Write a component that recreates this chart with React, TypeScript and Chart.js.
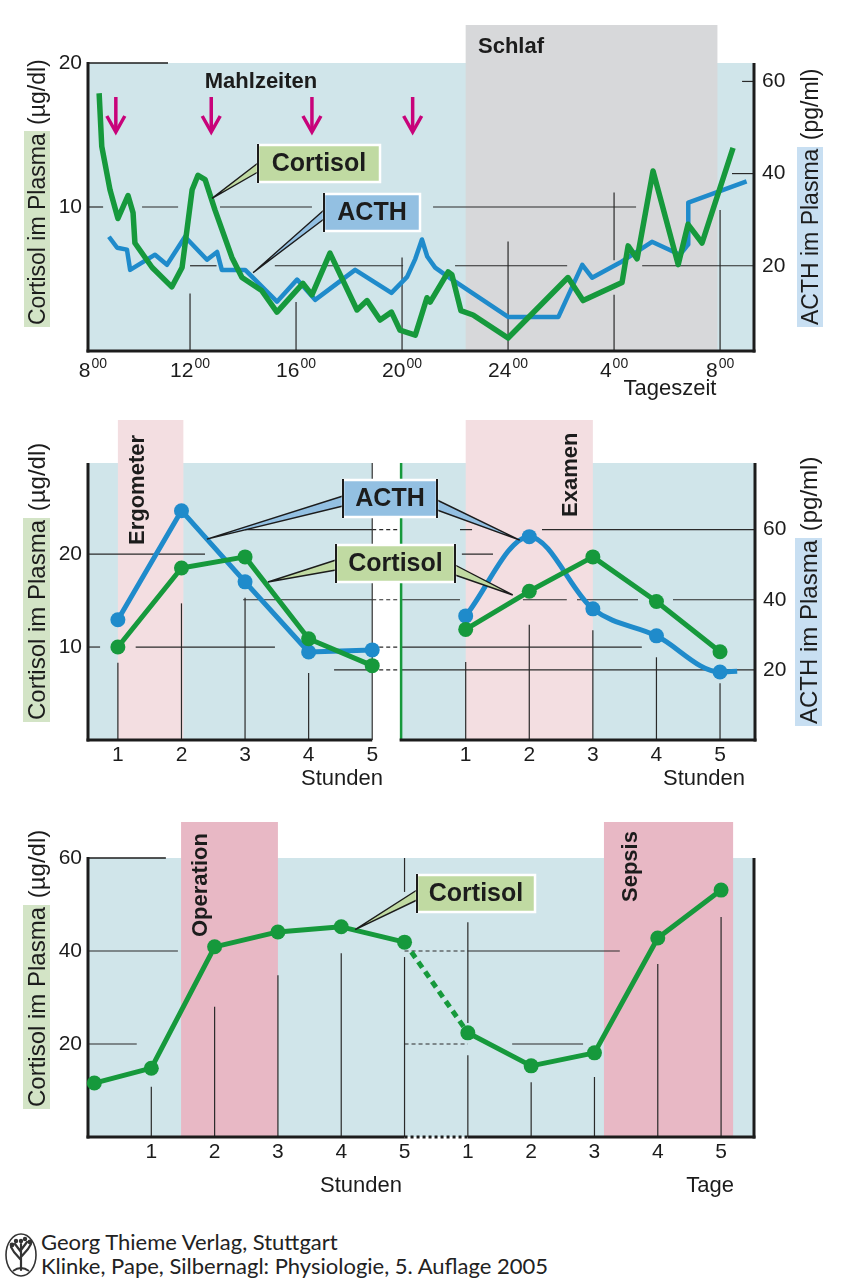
import { useEffect, useRef } from 'react';
import { Chart, registerables } from 'chart.js';

Chart.register(...registerables);

const FONT = '"Liberation Sans", Arial, Helvetica, sans-serif';
const INK = '#1c1c1c';
const BG_BLUE = '#d0e5ea';
const SLEEP_GRAY = '#d7d8da';
const PINK_LIGHT = '#f3dee1';
const PINK_DEEP = '#e8b8c5';
const GREEN = '#16993c';
const BLUE = '#1f8bcb';
const MAGENTA = '#c8037a';
const BOX_GREEN = '#c0daa2';
const BOX_BLUE = '#93c0e2';
const TITLE_GREEN = '#d3e4c6';
const TITLE_BLUE = '#c8dff2';

// ---------- Panel 1: circadian rhythm (hours of day, 24 = midnight, 32 = 8:00 next day)
const cortisolDayHours = [8.57, 8.67, 8.98, 9.28, 9.66, 9.85, 9.92, 10.57, 11.31, 11.7, 12.08, 12.3, 12.57, 12.94, 13.58, 13.96, 14.7, 15.28, 16.26, 16.6, 17.28, 18.3, 18.68, 19.17, 19.6, 19.92, 20.5, 20.94, 21.06, 21.74, 21.88, 22.22, 22.68, 24.0, 26.26, 26.83, 28.3, 28.53, 28.87, 29.47, 30.42, 30.79, 31.32, 32.49];
const cortisolDayValues = [17.9, 14.2, 11.2, 9.2, 10.8, 9.6, 7.5, 5.8, 4.45, 5.8, 11.2, 12.2, 11.9, 9.8, 6.5, 5.1, 4.2, 2.7, 4.7, 3.9, 6.8, 2.85, 3.5, 2.15, 2.7, 1.45, 1.1, 3.7, 3.4, 5.5, 5.3, 2.8, 2.5, 0.9, 5.1, 3.5, 4.75, 7.3, 6.4, 12.5, 6.0, 8.8, 7.5, 14.1];
const acthDayHours = [8.94, 9.25, 9.62, 9.74, 10.68, 11.13, 11.81, 12.64, 13.02, 13.2, 14.08, 15.28, 16.04, 16.72, 18.23, 19.6, 20.19, 20.5, 20.75, 20.95, 21.25, 21.74, 24.0, 25.9, 26.8, 27.17, 28.23, 29.43, 30.49, 30.79, 30.8, 33.0];
const acthDayValues = [26.3, 23.9, 23.5, 19.1, 22.4, 20.2, 26.3, 21.3, 23.0, 19.1, 19.1, 12.2, 17.0, 12.6, 19.1, 14.1, 17.6, 21.5, 25.7, 22.0, 19.6, 17.6, 8.9, 8.9, 20.2, 17.4, 20.7, 25.2, 22.4, 24.6, 33.7, 38.3];
const mealHours = [9.2, 12.8, 16.6, 20.4];
const sleepHours = [22.4, 31.9];
const dayTickHours = [8, 12, 16, 20, 24, 28, 32];
const dayTickLabels = ['8', '12', '16', '20', '24', '4', '8'];
const dayCortisolTicks = [10, 20];
const dayActhTicks = [20, 40, 60];

// ---------- Panel 2: Ergometer / Examen
const ergoHours = [1, 2, 3, 4, 5];
const ergoActh = [34.3, 65.4, 45.1, 25.1, 25.7];
const ergoCortisol = [10.0, 18.5, 19.7, 10.9, 8.0];
const examActhHours = [1, 2, 3, 4, 5, 5.27];
const examActh = [35.4, 58.0, 37.4, 29.7, 19.4, 19.6];
const examHours = [1, 2, 3, 4, 5];
const examCortisol = [11.9, 16.0, 19.7, 14.9, 9.5];
const stressCortisolTicks = [10, 20];
const stressActhTicks = [20, 40, 60];
const ergoBand = [1, 2.03];
const examBand = [1, 3];

// ---------- Panel 3: Operation / Sepsis
const opHours = [0.1, 1, 2, 3, 4, 5];
const opHourValues = [11.6, 14.8, 40.9, 44.1, 45.2, 41.9];
const sepsisDays = [1, 2, 3, 4, 5];
const sepsisDayValues = [22.4, 15.3, 18.1, 42.8, 53.1];
const opCortisolTicks = [20, 40, 60];
const operationBand = [1.47, 3.0];
const sepsisBand = [3.15, 5.19]; // in days

const EXAM_OFFSET = 5.47; // second experiment drawn to the right of the first
const DAY_OFFSET = 5; // days follow the 5 hours

type Ctx = CanvasRenderingContext2D;

function seg(ctx: Ctx, x1: number, y1: number, x2: number, y2: number, color: string, width: number, dash: number[] = []) {
  ctx.save();
  ctx.strokeStyle = color;
  ctx.lineWidth = width;
  ctx.setLineDash(dash);
  ctx.beginPath();
  ctx.moveTo(x1, y1);
  ctx.lineTo(x2, y2);
  ctx.stroke();
  ctx.restore();
}

type Tail = { side: 'left' | 'right'; y1: number; y2: number; tx: number; ty: number };

function callout(ctx: Ctx, box: { x: number; y: number; w: number; h: number }, text: string, fill: string, tails: Tail[]) {
  ctx.save();
  for (const t of tails) {
    const bx = t.side === 'left' ? box.x : box.x + box.w;
    ctx.beginPath();
    ctx.moveTo(bx, t.y1);
    ctx.lineTo(t.tx, t.ty);
    ctx.lineTo(bx, t.y2);
    ctx.closePath();
    ctx.fillStyle = fill;
    ctx.fill();
    ctx.strokeStyle = INK;
    ctx.lineWidth = 1.4;
    ctx.beginPath();
    ctx.moveTo(bx, t.y1);
    ctx.lineTo(t.tx, t.ty);
    ctx.lineTo(bx, t.y2);
    ctx.stroke();
  }
  ctx.fillStyle = fill;
  ctx.fillRect(box.x, box.y, box.w, box.h);
  ctx.strokeStyle = '#ffffff';
  ctx.lineWidth = 2.5;
  ctx.strokeRect(box.x, box.y, box.w, box.h);
  for (const t of tails) {
    const bx = t.side === 'left' ? box.x : box.x + box.w;
    seg(ctx, bx, box.y - 1, bx, box.y + box.h + 1, INK, 2);
  }
  ctx.fillStyle = INK;
  ctx.font = 'bold 25px ' + FONT;
  ctx.textAlign = 'center';
  ctx.textBaseline = 'middle';
  ctx.fillText(text, box.x + box.w / 2, box.y + box.h / 2 + 1);
  ctx.restore();
}

function text(ctx: Ctx, s: string, x: number, y: number, font: string, align: CanvasTextAlign = 'left') {
  ctx.save();
  ctx.fillStyle = INK;
  ctx.font = font;
  ctx.textAlign = align;
  ctx.textBaseline = 'alphabetic';
  ctx.fillText(s, x, y);
  ctx.restore();
}

function vtext(ctx: Ctx, s: string, cx: number, bottom: number) {
  ctx.save();
  ctx.translate(cx, bottom);
  ctx.rotate(-Math.PI / 2);
  ctx.fillStyle = INK;
  ctx.font = 'bold 22px ' + FONT;
  ctx.textAlign = 'left';
  ctx.textBaseline = 'middle';
  ctx.fillText(s, 0, 1);
  ctx.restore();
}

function yAxis(position: 'left' | 'right', min: number, max: number, ticks: number[], width: number, display = true) {
  return {
    type: 'linear',
    position,
    min,
    max,
    display,
    grid: { display: false, drawTicks: false },
    border: { display: false },
    afterBuildTicks: (s: any) => {
      s.ticks = ticks.map((v) => ({ value: v }));
    },
    afterFit: (s: any) => {
      s.width = width;
    },
    ticks: { font: { size: 21, family: FONT }, color: INK, padding: position === 'left' ? 6 : 8 },
  };
}

function xAxis(min: number, max: number, height: number, tickValues: number[] | null, tickLabels: string[]) {
  return {
    type: 'linear',
    min,
    max,
    grid: { display: false, drawTicks: false },
    border: { display: false },
    afterBuildTicks: (s: any) => {
      if (tickValues) s.ticks = tickValues.map((v) => ({ value: v }));
    },
    afterFit: (s: any) => {
      s.height = height;
    },
    ticks: {
      display: !!tickValues,
      autoSkip: false,
      maxRotation: 0,
      padding: 3,
      font: { size: 21, family: FONT },
      color: INK,
      callback: (_v: any, i: number) => tickLabels[i],
    },
  };
}

const baseOptions = {
  responsive: false,
  animation: false,
  events: [],
  plugins: { legend: { display: false }, tooltip: { enabled: false } },
};

// ---------------- Panel 1
function panel1(): any {
  const decor = {
    id: 'decor1',
    beforeDraw(chart: any) {
      const { ctx, chartArea: a, scales } = chart;
      const x = scales.x;
      ctx.save();
      ctx.fillStyle = BG_BLUE;
      ctx.fillRect(a.left, a.top, a.right - a.left, a.bottom - a.top);
      ctx.fillStyle = SLEEP_GRAY;
      const s0 = x.getPixelForValue(sleepHours[0]);
      const s1 = x.getPixelForValue(sleepHours[1]);
      ctx.fillRect(s0, 25, s1 - s0, a.bottom - 25);
      ctx.restore();
    },
    beforeDatasetsDraw(chart: any) {
      const { ctx, chartArea: a, scales } = chart;
      const X = (v: number) => scales.x.getPixelForValue(v);
      const Y = (v: number) => scales.y.getPixelForValue(v);
      const Y2 = (v: number) => scales.y2.getPixelForValue(v);
      const g = '#2a2a2a';
      const hy: [number, number, number][] = [[10, 8.15, 8.72], [10, 10.19, 11.55], [10, 13.13, 16.6], [10, 21.17, 28.83]];
      hy.forEach(([v, a1, a2]) => seg(ctx, X(a1), Y(v), X(a2), Y(v), g, 1.2));
      const hy2: [number, number, number][] = [[20, 12, 13], [20, 15.2, 20.04], [20, 22.0, 26.23], [20, 29.06, 33.3], [40, 32.45, 33.3], [60, 32.83, 33.3]];
      hy2.forEach(([v, a1, a2]) => seg(ctx, X(a1), Y2(v), X(a2), Y2(v), g, 1.2));
      const vx: [number, number, number][] = [[12, 4.0, 0], [16, 3.4, 0], [20, 6.5, 0], [24, 7.6, 0], [28, 11.0, 6.3], [28, 3.9, 0], [32, 9.8, 0]];
      vx.forEach(([h, v1, v2]) => seg(ctx, X(h), Y(v1), X(h), Y(v2), g, 1.2));
      seg(ctx, a.left, a.top, X(11.17), a.top, INK, 1.6);
      seg(ctx, a.left, a.top - 1, a.left, a.bottom + 1.5, INK, 3);
      seg(ctx, a.left - 1.5, a.bottom, a.right + 1.5, a.bottom, INK, 3);
      seg(ctx, a.right, a.top, a.right, a.bottom + 1.5, INK, 3);
    },
    afterDatasetsDraw(chart: any) {
      const { ctx, chartArea: a, scales } = chart;
      const X = (v: number) => scales.x.getPixelForValue(v);
      const Y = (v: number) => scales.y.getPixelForValue(v);
      const Y2 = (v: number) => scales.y2.getPixelForValue(v);
      ctx.save();
      ctx.strokeStyle = MAGENTA;
      ctx.lineWidth = 3.5;
      ctx.lineJoin = 'miter';
      mealHours.forEach((h) => {
        const px = X(h);
        ctx.beginPath();
        ctx.moveTo(px, 97);
        ctx.lineTo(px, 131);
        ctx.stroke();
        ctx.beginPath();
        ctx.moveTo(px - 9, 116);
        ctx.lineTo(px, 132);
        ctx.lineTo(px + 9, 116);
        ctx.stroke();
      });
      ctx.restore();
      text(ctx, 'Mahlzeiten', 261, 88, 'bold 22px ' + FONT, 'center');
      text(ctx, 'Schlaf', 478, 53, 'bold 22px ' + FONT, 'left');
      callout(ctx, { x: 258, y: 145, w: 122, h: 37 }, 'Cortisol', BOX_GREEN, [
        { side: 'left', y1: 163, y2: 172, tx: X(12.83), ty: Y(10.6) },
      ]);
      callout(ctx, { x: 324, y: 194, w: 96, h: 37 }, 'ACTH', BOX_BLUE, [
        { side: 'left', y1: 210, y2: 219, tx: X(14.38), ty: Y2(18.5) },
      ]);
      dayTickHours.forEach((h, i) => {
        const cx = Math.max(X(h), a.left + 5);
        ctx.save();
        ctx.fillStyle = INK;
        ctx.font = '21px ' + FONT;
        const w1 = ctx.measureText(dayTickLabels[i]).width;
        ctx.font = '14px ' + FONT;
        const w2 = ctx.measureText('00').width;
        const start = cx - (w1 + w2 + 1) / 2;
        ctx.font = '21px ' + FONT;
        ctx.fillText(dayTickLabels[i], start, a.bottom + 26);
        ctx.font = '14px ' + FONT;
        ctx.fillText('00', start + w1 + 1, a.bottom + 17);
        ctx.restore();
      });
      text(ctx, 'Tageszeit', 670, 395, '22px ' + FONT, 'center');
    },
  };
  return {
    type: 'line',
    data: {
      datasets: [
        {
          label: 'Cortisol',
          data: cortisolDayHours.map((x, i) => ({ x, y: cortisolDayValues[i] })),
          yAxisID: 'y',
          borderColor: GREEN,
          borderWidth: 5.5,
          pointRadius: 0,
          borderJoinStyle: 'round',
          tension: 0,
          clip: false,
        },
        {
          label: 'ACTH',
          data: acthDayHours.map((x, i) => ({ x, y: acthDayValues[i] })),
          yAxisID: 'y2',
          borderColor: BLUE,
          borderWidth: 4.5,
          pointRadius: 0,
          borderJoinStyle: 'round',
          tension: 0,
          clip: false,
        },
      ],
    },
    options: {
      ...baseOptions,
      layout: { padding: { top: 63, left: 0, right: 0, bottom: 0 } },
      scales: {
        x: xAxis(8.15, 33.28, 59, null, []),
        y: yAxis('left', 0, 20, dayCortisolTicks, 88),
        y2: yAxis('right', 1.5, 64, dayActhTicks, 101),
      },
    },
    plugins: [decor],
  };
}

// ---------------- Panel 2
function panel2(): any {
  const tickVals = [...ergoHours, ...examHours.map((h) => h + EXAM_OFFSET)];
  const tickLabs = [...ergoHours, ...examHours].map(String);
  const decor = {
    id: 'decor2',
    beforeDraw(chart: any) {
      const { ctx, chartArea: a, scales } = chart;
      const X = (v: number) => scales.x.getPixelForValue(v);
      ctx.save();
      ctx.fillStyle = BG_BLUE;
      ctx.fillRect(a.left, a.top, X(5) - a.left, a.bottom - a.top);
      ctx.fillRect(X(EXAM_OFFSET) - 1, a.top, a.right - X(EXAM_OFFSET) + 1, a.bottom - a.top);
      ctx.fillStyle = PINK_LIGHT;
      ctx.fillRect(X(ergoBand[0]), 10, X(ergoBand[1]) - X(ergoBand[0]), a.bottom - 10);
      ctx.fillRect(X(examBand[0] + EXAM_OFFSET), 10, X(examBand[1] + EXAM_OFFSET) - X(examBand[0] + EXAM_OFFSET), a.bottom - 10);
      ctx.restore();
    },
    beforeDatasetsDraw(chart: any) {
      const { ctx, chartArea: a, scales } = chart;
      const X = (v: number) => scales.x.getPixelForValue(v);
      const Y = (v: number) => scales.y.getPixelForValue(v);
      const Y2 = (v: number) => scales.y2.getPixelForValue(v);
      const g = '#2a2a2a';
      const gapL = 5.0;
      const gapR = EXAM_OFFSET - 0.02;
      const hc: [number, number, number][] = [[20, 0.53, 2.37], [20, 6.41, 6.9], [10, 0.53, 0.72], [10, 1.28, 3.47], [10, 5.45, 9.24]];
      hc.forEach(([v, a1, a2]) => seg(ctx, X(a1), Y(v), X(a2), Y(v), g, 1.2));
      const ha: [number, number, number][] = [[60, 3.0, 5.0], [60, 6.38, 6.57], [60, 7.67, 11.02], [40, 2.97, 5.0], [40, 5.47, 6.38], [40, 7.37, 8.06], [40, 8.22, 9.18], [40, 9.73, 11.02], [20, 4.4, 5.0], [20, 5.45, 11.02]];
      ha.forEach(([v, a1, a2]) => seg(ctx, X(a1), Y2(v), X(a2), Y2(v), g, 1.2));
      [Y2(60), Y2(40), Y(10), Y2(20)].forEach((py) => seg(ctx, X(gapL), py, X(gapR), py, g, 1.2, [4, 3]));
      const vv: [number, number][] = [[1, 8.3], [2, 14.7], [3, 15.3], [4, 7.2], [1 + EXAM_OFFSET, 8.4], [2 + EXAM_OFFSET, 12.4], [3 + EXAM_OFFSET, 11.8], [4 + EXAM_OFFSET, 8.9], [5 + EXAM_OFFSET, 6.1]];
      vv.forEach(([h, v]) => seg(ctx, X(h), Y(v), X(h), a.bottom, g, 1.2));
      seg(ctx, a.left, a.top, a.left, a.bottom + 1.5, INK, 3);
      seg(ctx, a.left - 1.5, a.bottom, X(5), a.bottom, INK, 3);
      seg(ctx, X(5), a.top, X(5), a.bottom, '#333', 1.2);
      seg(ctx, X(EXAM_OFFSET) - 1, a.top, X(EXAM_OFFSET) - 1, a.bottom, GREEN, 2.5);
      seg(ctx, X(EXAM_OFFSET) - 2.5, a.bottom, a.right + 1.5, a.bottom, INK, 3);
      seg(ctx, a.right, a.top, a.right, a.bottom + 1.5, INK, 3);
    },
    afterDatasetsDraw(chart: any) {
      const { ctx, scales } = chart;
      const X = (v: number) => scales.x.getPixelForValue(v);
      const Y = (v: number) => scales.y.getPixelForValue(v);
      const Y2 = (v: number) => scales.y2.getPixelForValue(v);
      vtext(ctx, 'Ergometer', 137, 135);
      vtext(ctx, 'Examen', 570, 107);
      callout(ctx, { x: 343, y: 70, w: 94, h: 37 }, 'ACTH', BOX_BLUE, [
        { side: 'left', y1: 86, y2: 96, tx: X(2.4), ty: Y2(57.3) },
        { side: 'right', y1: 90, y2: 100, tx: X(1.85 + EXAM_OFFSET), ty: Y2(57.0) },
      ]);
      callout(ctx, { x: 336, y: 135, w: 119, h: 37 }, 'Cortisol', BOX_GREEN, [
        { side: 'left', y1: 150, y2: 160, tx: X(3.36), ty: Y(17.0) },
        { side: 'right', y1: 155, y2: 165, tx: X(1.74 + EXAM_OFFSET), ty: Y(15.6) },
      ]);
      text(ctx, 'Stunden', 383, 375, '22px ' + FONT, 'right');
      text(ctx, 'Stunden', 745, 375, '22px ' + FONT, 'right');
    },
  };
  const pt = { pointRadius: 7.5, pointBorderWidth: 0, borderWidth: 5, tension: 0, clip: false, borderJoinStyle: 'round' };
  return {
    type: 'line',
    data: {
      datasets: [
        { label: 'Cortisol Ergometer', data: ergoHours.map((x, i) => ({ x, y: ergoCortisol[i] })), yAxisID: 'y', borderColor: GREEN, pointBackgroundColor: GREEN, ...pt },
        { label: 'Cortisol Examen', data: examHours.map((x, i) => ({ x: x + EXAM_OFFSET, y: examCortisol[i] })), yAxisID: 'y', borderColor: GREEN, pointBackgroundColor: GREEN, ...pt },
        { label: 'ACTH Ergometer', data: ergoHours.map((x, i) => ({ x, y: ergoActh[i] })), yAxisID: 'y2', borderColor: BLUE, pointBackgroundColor: BLUE, ...pt },
        {
          label: 'ACTH Examen',
          data: examActhHours.map((x, i) => ({ x: x + EXAM_OFFSET, y: examActh[i] })),
          yAxisID: 'y2',
          borderColor: BLUE,
          pointBackgroundColor: BLUE,
          ...pt,
          cubicInterpolationMode: 'monotone',
          pointRadius: examActhHours.map((_, i) => (i < 5 ? 7.5 : 0)),
        },
      ],
    },
    options: {
      ...baseOptions,
      layout: { padding: { top: 53, left: 0, right: 0, bottom: 0 } },
      scales: {
        x: xAxis(0.53, 11.02, 70, tickVals, tickLabs),
        y: yAxis('left', 0, 29.8, stressCortisolTicks, 88),
        y2: yAxis('right', 0, 79, stressActhTicks, 100),
      },
    },
    plugins: [decor],
  };
}

// ---------------- Panel 3
function panel3(): any {
  const tickVals = [...opHours.slice(1), ...sepsisDays.map((d) => d + DAY_OFFSET)];
  const tickLabs = [...opHours.slice(1), ...sepsisDays].map(String);
  const decor = {
    id: 'decor3',
    beforeDraw(chart: any) {
      const { ctx, chartArea: a, scales } = chart;
      const X = (v: number) => scales.x.getPixelForValue(v);
      ctx.save();
      ctx.fillStyle = BG_BLUE;
      ctx.fillRect(a.left, a.top, a.right - a.left, a.bottom - a.top);
      ctx.fillStyle = PINK_DEEP;
      ctx.fillRect(X(operationBand[0]), 12, X(operationBand[1]) - X(operationBand[0]), a.bottom - 12);
      const s0 = X(sepsisBand[0] + DAY_OFFSET);
      const s1 = X(sepsisBand[1] + DAY_OFFSET);
      ctx.fillRect(s0, 12, s1 - s0, a.bottom - 12);
      ctx.restore();
    },
    beforeDatasetsDraw(chart: any) {
      const { ctx, chartArea: a, scales } = chart;
      const X = (v: number) => scales.x.getPixelForValue(v);
      const Y = (v: number) => scales.y.getPixelForValue(v);
      const g = '#2a2a2a';
      const hs: [number, number, number][] = [[40, 0, 1.42], [20, 0, 0.77], [40, 6.0, 8.4], [20, 6.7, 7.82]];
      hs.forEach(([v, a1, a2]) => seg(ctx, X(a1), Y(v), X(a2), Y(v), g, 1.2));
      [40, 20].forEach((v) => seg(ctx, X(5), Y(v), X(6), Y(v), g, 1.1, [4, 3]));
      const vs: [number, number, number][] = [[1, 10.8, 0], [2, 28.0, 0], [3, 34.8, 0], [4, 39.5, 0], [5, 60, 52.7], [5, 38.7, 0], [6, 46.2, 24.5], [6, 17.6, 0], [7, 11.8, 0], [8, 12.9, 0], [9, 37.2, 0], [10, 47.3, 0]];
      vs.forEach(([h, v1, v2]) => seg(ctx, X(h), Y(v1), X(h), Y(v2), g, 1.2));
      seg(ctx, a.left, a.top, X(1.23), a.top, INK, 1.6);
      seg(ctx, a.left, a.top - 1, a.left, a.bottom + 1.5, INK, 3);
      seg(ctx, a.left - 1.5, a.bottom, X(5), a.bottom, INK, 3);
      seg(ctx, X(5), a.bottom, X(6), a.bottom, INK, 3, [3, 3]);
      seg(ctx, X(6), a.bottom, a.right + 1.5, a.bottom, INK, 3);
      seg(ctx, a.right, a.top, a.right, a.bottom + 1.5, INK, 3);
    },
    afterDatasetsDraw(chart: any) {
      const { ctx, scales } = chart;
      const X = (v: number) => scales.x.getPixelForValue(v);
      const Y = (v: number) => scales.y.getPixelForValue(v);
      vtext(ctx, 'Operation', 200, 127);
      vtext(ctx, 'Sepsis', 630, 92);
      callout(ctx, { x: 417, y: 65, w: 118, h: 37 }, 'Cortisol', BOX_GREEN, [
        { side: 'left', y1: 80, y2: 90, tx: X(4.22), ty: Y(44.6) },
      ]);
      text(ctx, 'Stunden', 402, 382, '22px ' + FONT, 'right');
      text(ctx, 'Tage', 734, 382, '22px ' + FONT, 'right');
    },
  };
  const xs = [...opHours, ...sepsisDays.map((d) => d + DAY_OFFSET)];
  const ys = [...opHourValues, ...sepsisDayValues];
  const lastHour = opHours.length - 1;
  return {
    type: 'line',
    data: {
      datasets: [
        {
          label: 'Cortisol',
          data: xs.map((x, i) => ({ x, y: ys[i] })),
          yAxisID: 'y',
          borderColor: GREEN,
          pointBackgroundColor: GREEN,
          pointRadius: 7.5,
          pointBorderWidth: 0,
          borderWidth: 5,
          tension: 0,
          clip: false,
          borderJoinStyle: 'round',
          segment: { borderDash: (c: any) => (c.p0DataIndex === lastHour ? [7, 5] : undefined) },
        },
      ],
    },
    options: {
      ...baseOptions,
      layout: { padding: { top: 48, left: 0, right: 101, bottom: 0 } },
      scales: {
        x: xAxis(0, 10.52, 83, tickVals, tickLabs),
        y: yAxis('left', 0, 60, opCortisolTicks, 88),
      },
    },
    plugins: [decor],
  };
}

function ChartCanvas({ top, height, build }: { top: number; height: number; build: () => any }) {
  const ref = useRef<HTMLCanvasElement>(null);
  useEffect(() => {
    const chart = new Chart(ref.current as HTMLCanvasElement, build());
    return () => chart.destroy();
  }, []);
  return <canvas ref={ref} width={855} height={height} style={{ position: 'absolute', left: 0, top, width: 855, height }} />;
}

function VTitle({ left, bottom, hl, rest, color, size }: { left: number; bottom: number; hl: string; rest: string; color: string; size: number }) {
  return (
    <div
      style={{
        position: 'absolute',
        left,
        top: bottom - 320,
        width: 28,
        height: 320,
        writingMode: 'vertical-rl',
        transform: 'rotate(180deg)',
        fontFamily: FONT,
        fontSize: size,
        lineHeight: '28px',
        whiteSpace: 'nowrap',
        color: INK,
      }}
    >
      <span style={{ background: color, paddingTop: 2, paddingBottom: 2 }}>{hl}</span>
      {rest}
    </div>
  );
}

export default function App() {
  return (
    <div style={{ position: 'absolute', left: 0, top: 0, width: 855, height: 1283, background: '#fff', overflow: 'hidden' }}>
      <ChartCanvas top={0} height={410} build={panel1} />
      <ChartCanvas top={410} height={400} build={panel2} />
      <ChartCanvas top={810} height={410} build={panel3} />
      <VTitle left={23} bottom={327} hl="Cortisol im Plasma" rest=" (µg/dl)" color={TITLE_GREEN} size={23} />
      <VTitle left={796} bottom={327} hl="ACTH im Plasma" rest=" (pg/ml)" color={TITLE_BLUE} size={23} />
      <VTitle left={23} bottom={722} hl="Cortisol im Plasma" rest=" (µg/dl)" color={TITLE_GREEN} size={24} />
      <VTitle left={795} bottom={726} hl="ACTH im Plasma" rest=" (pg/ml)" color={TITLE_BLUE} size={24} />
      <VTitle left={23} bottom={1109} hl="Cortisol im Plasma" rest=" (µg/dl)" color={TITLE_GREEN} size={24} />
      <svg style={{ position: 'absolute', left: 4, top: 1232 }} width={34} height={46} viewBox="0 0 34 46">
        <ellipse cx={17} cy={23} rx={15} ry={21} fill="none" stroke="#333" strokeWidth={1.6} />
        <path d="M17 38 L17 12 M17 28 L10 20 M17 25 L24 17 M17 20 L11 12 M17 18 L23 10 M10 20 L7 15 M24 17 L27 12" stroke="#333" strokeWidth={2.2} fill="none" strokeLinecap="round" />
        <path d="M9 39 Q17 33 25 39" stroke="#333" strokeWidth={2} fill="none" />
        <circle cx={8} cy={13} r={2.4} fill="#333" />
        <circle cx={26} cy={10} r={2.4} fill="#333" />
        <circle cx={12} cy={9} r={2.2} fill="#333" />
        <circle cx={21} cy={7} r={2.2} fill="#333" />
        <circle cx={17} cy={9} r={2.2} fill="#333" />
      </svg>
      <div style={{ position: 'absolute', left: 41, top: 1230, fontFamily: 'Lato, "Open Sans", sans-serif', fontSize: 22, lineHeight: '24px', color: '#222', whiteSpace: 'nowrap' }}>
        Georg Thieme Verlag, Stuttgart
        <br />
        Klinke, Pape, Silbernagl: Physiologie, 5. Auflage 2005
      </div>
    </div>
  );
}
